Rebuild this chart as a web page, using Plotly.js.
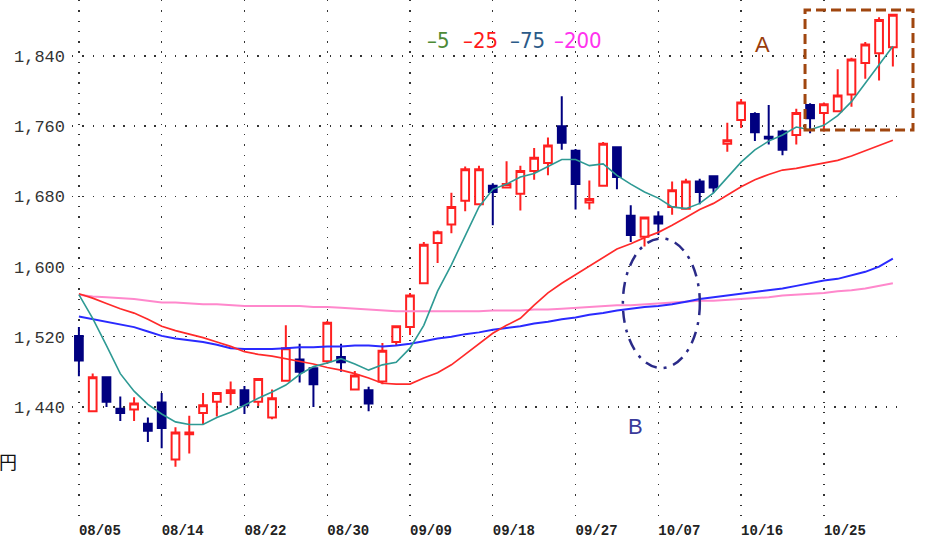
<!DOCTYPE html>
<html>
<head>
<meta charset="utf-8">
<script src="https://cdn.plot.ly/plotly-3.0.1.min.js"></script>
<style>html,body{margin:0;padding:0;background:#fff;}#chart{width:925px;height:538px;}</style>
</head>
<body>
<div id="chart"></div>
<script>
// Trading days (2019)
const dates = ["08/05","08/06","08/07","08/08","08/09","08/13","08/14","08/15","08/16","08/19",
"08/20","08/21","08/22","08/23","08/26","08/27","08/28","08/29","08/30","09/02",
"09/03","09/04","09/05","09/06","09/09","09/10","09/11","09/12","09/13","09/17",
"09/18","09/19","09/20","09/24","09/25","09/26","09/27","09/30","10/01","10/02",
"10/03","10/04","10/07","10/08","10/09","10/10","10/11","10/15","10/16","10/17",
"10/18","10/21","10/23","10/24","10/25","10/28","10/29","10/30","10/31","11/01"];

const openP  = [1521,1435,1474,1438,1437,1421,1445,1380,1409,1433,1446,1456,1459,1446,1428,1470,1494,1484,1492,1497,1460,1459,1469,1514,1531,1581,1627,1648,1675,1671,1692,1690,1683,1709,1718,1760,1732,1673,1692,1736,1658,1634,1657,1668,1666,1697,1703,1740,1767,1774,1748,1754,1750,1784,1775,1777,1796,1832,1843,1850];
const highP  = [1531,1478,1475,1452,1451,1428,1456,1417,1430,1456,1457,1469,1464,1472,1460,1533,1512,1485,1538,1512,1481,1463,1513,1533,1570,1628,1641,1684,1714,1715,1695,1720,1715,1735,1747,1794,1734,1698,1742,1737,1670,1657,1663,1697,1700,1700,1704,1764,1791,1776,1784,1756,1780,1786,1787,1825,1838,1856,1884,1887];
const lowP   = [1475,1434,1440,1424,1424,1400,1393,1372,1387,1420,1429,1442,1432,1441,1426,1470,1468,1440,1489,1480,1459,1435,1466,1510,1522,1581,1604,1638,1663,1671,1647,1689,1664,1699,1704,1733,1665,1665,1692,1688,1628,1623,1636,1659,1665,1671,1684,1731,1758,1743,1739,1727,1739,1752,1754,1776,1782,1814,1812,1828];
const closeP = [1493,1474,1446,1433,1444,1413,1416,1411,1411,1442,1456,1459,1442,1472,1450,1507,1480,1466,1536,1491,1476,1444,1504,1532,1567,1625,1639,1668,1711,1711,1685,1694,1709,1724,1738,1741,1694,1677,1740,1702,1636,1656,1649,1687,1697,1685,1690,1744,1787,1753,1746,1733,1775,1769,1785,1795,1836,1853,1881,1887];

const ma5   = [1568,1541,1510,1478,1458,1443,1432,1423,1420,1420,1428,1434,1442,1450,1457,1465,1477,1486,1490,1495,1489,1482,1488,1491,1507,1533,1572,1602,1635,1668,1688,1694,1702,1706,1714,1722,1722,1715,1717,1704,1694,1685,1678,1668,1666,1672,1684,1701,1719,1733,1743,1750,1759,1756,1761,1772,1788,1809,1830,1851];
const ma25  = [1569,1564,1558,1552,1547,1540,1532,1527,1523,1519,1514,1509,1503,1500,1498,1495,1492,1489,1485,1482,1478,1473,1467,1466,1466,1473,1479,1488,1500,1512,1524,1533,1541,1556,1570,1581,1591,1601,1611,1620,1626,1633,1639,1647,1656,1665,1672,1682,1691,1699,1705,1710,1712,1715,1718,1721,1726,1732,1738,1744];
const ma75  = [1543,1540,1537,1534,1531,1526,1521,1518,1516,1514,1511,1507,1506,1506,1506,1507,1508,1508,1509,1509,1510,1510,1509,1510,1512,1515,1518,1520,1523,1525,1528,1530,1532,1535,1537,1540,1542,1545,1547,1550,1552,1554,1555,1557,1560,1563,1565,1567,1569,1571,1573,1575,1578,1581,1584,1586,1590,1594,1600,1609];
const ma200 = [1568,1566,1565,1564,1563,1561,1559,1559,1558,1557,1557,1556,1555,1555,1555,1555,1555,1554,1554,1553,1552,1551,1550,1549,1549,1549,1549,1549,1549,1549,1550,1550,1550,1551,1551,1552,1553,1554,1555,1556,1556,1557,1558,1559,1560,1561,1561,1562,1563,1564,1565,1567,1568,1569,1570,1572,1573,1575,1578,1581];

const xTickVals = ["08/05","08/14","08/22","08/30","09/09","09/18","09/27","10/07","10/16","10/25"];
const yTickVals = [1440,1520,1600,1680,1760,1840];
const yTickText = ["1,440","1,520","1,600","1,680","1,760","1,840"];
const legendLabels = ["\u20135","\u201325","\u201375","\u2013200"];
const legendColors = ["#4d8a36","#ff1a1a","#2b5a88","#ff33ee"];

const traces = [
  {
    type: "candlestick", x: dates, open: openP, high: highP, low: lowP, close: closeP,
    increasing: {line: {color: "#ff2020", width: 2}, fillcolor: "#ffffff"},
    decreasing: {line: {color: "#000080", width: 2}, fillcolor: "#000080"},
    whiskerwidth: 0, hoverinfo: "skip", showlegend: false
  },
  {type: "scatter", mode: "lines", x: dates, y: ma200, line: {color: "#ff88cc", width: 2}, hoverinfo: "skip", showlegend: false},
  {type: "scatter", mode: "lines", x: dates, y: ma75, line: {color: "#2a2aff", width: 2}, hoverinfo: "skip", showlegend: false},
  {type: "scatter", mode: "lines", x: dates, y: ma25, line: {color: "#ff2a2a", width: 1.7}, hoverinfo: "skip", showlegend: false},
  {type: "scatter", mode: "lines", x: dates, y: ma5, line: {color: "#2e9a94", width: 1.6}, hoverinfo: "skip", showlegend: false}
];

const legendX = [0.4394, 0.4904, 0.5468, 0.6074];
const annotations = legendLabels.map((t, k) => ({
  text: t, xref: "paper", yref: "paper", x: legendX[k], y: 0.9226,
  xanchor: "center", yanchor: "middle", showarrow: false,
  font: {family: "Liberation Sans Narrow, DejaVu Sans Condensed, Arial Narrow, sans-serif", size: 22, color: legendColors[k]}
}));
annotations.push({text: "A", xref: "paper", yref: "paper", x: 0.8289, y: 0.913, xanchor: "center", yanchor: "middle", showarrow: false,
  font: {family: "Liberation Sans, Arial, sans-serif", size: 22, color: "#9a3c0c"}});
annotations.push({text: "B", xref: "paper", yref: "paper", x: 0.6759, y: 0.175, xanchor: "center", yanchor: "middle", showarrow: false,
  font: {family: "Liberation Sans, Arial, sans-serif", size: 22, color: "#3a3a9a"}});
annotations.push({text: "円", xref: "paper", yref: "paper", x: -0.0768, y: 0.1083, xanchor: "center", yanchor: "middle", showarrow: false,
  font: {family: "Noto Sans CJK JP, sans-serif", size: 18, color: "#111"}});

const layout = {
  width: 925, height: 538,
  margin: {l: 72, r: 20, t: 0, b: 21, pad: 0},
  paper_bgcolor: "#ffffff", plot_bgcolor: "#ffffff",
  showlegend: false,
  boxgap: 0.2,
  xaxis: {
    type: "category", range: [-0.5, 59.88], rangeslider: {visible: false},
    tickmode: "array", tickvals: xTickVals, ticktext: xTickVals,
    showgrid: true, gridcolor: "#333", gridwidth: 1.4, griddash: "1.4px,8.9px",
    zeroline: false, showline: false, ticks: "",
    ticklabelshift: 21, ticklabelstandoff: 3,
    tickfont: {family: "Liberation Mono, DejaVu Sans Mono, monospace", size: 14, color: "#222", weight: "bold"},
    fixedrange: true
  },
  yaxis: {
    range: [1314.6, 1903.8],
    tickmode: "array", tickvals: yTickVals, ticktext: yTickText,
    showgrid: true, gridcolor: "#333", gridwidth: 1.4, griddash: "1.4px,8.9px",
    zeroline: false, showline: false, ticks: "",
    ticklabelstandoff: 6,
    tickfont: {family: "Liberation Mono, DejaVu Sans Mono, monospace", size: 17, color: "#333"},
    fixedrange: true
  },
  shapes: [
    {type: "circle", xref: "x", yref: "y", x0: 39.43, x1: 45.01, y0: 1484.4, y1: 1632,
     line: {color: "#2a2a88", width: 2.5, dash: "12px,7px,3px,7px"}},
    {type: "rect", xref: "paper", yref: "paper", x0: 0.88, x1: 1.0096, y0: 0.7485, y1: 0.9807,
     line: {color: "#a0460f", width: 3, dash: "10px,5px"}}
  ],
  annotations: annotations
};

Plotly.newPlot("chart", traces, layout, {displayModeBar: false, staticPlot: true});
</script>
</body>
</html>
